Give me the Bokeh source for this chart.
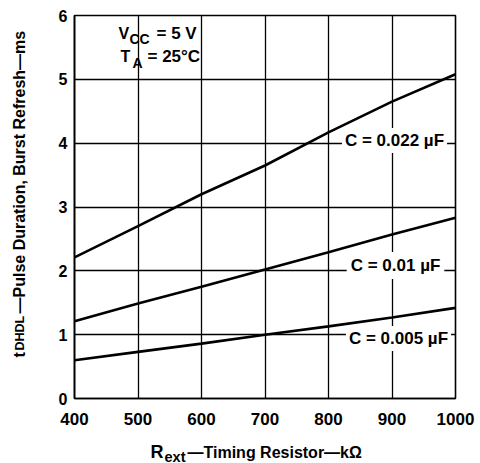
import math
from bokeh.plotting import figure
from bokeh.models import Label, FixedTicker, Range1d
from bokeh.layouts import row, column
from bokeh.embed import file_html
from bokeh.resources import INLINE

# ---- data ----
r_ext = [400, 500, 600, 700, 800, 900, 1000]
c_022 = [2.21, 2.70, 3.20, 3.65, 4.17, 4.65, 5.08]
c_010 = [1.21, 1.49, 1.75, 2.02, 2.29, 2.57, 2.83]
c_005 = [0.60, 0.73, 0.86, 1.00, 1.13, 1.27, 1.42]
x_ticks = [400, 500, 600, 700, 800, 900, 1000]
y_ticks = [0, 1, 2, 3, 4, 5, 6]
curve_labels = ["C = 0.022 \u00b5F", "C = 0.01 \u00b5F", "C = 0.005 \u00b5F"]

FONT = "Liberation Sans"
PAGE_W, PAGE_H = 480, 463
YT_W = 40            # width of the y-title strip
MAIN_H = 436         # height of main figure
FL, FR, FT, FB = 74, 455, 15, 398   # frame edges in page px

# ---------- main figure ----------
p = figure(width=PAGE_W - YT_W, height=MAIN_H, output_backend="svg",
           toolbar_location=None,
           x_range=Range1d(400, 1000), y_range=Range1d(0, 6),
           min_border_left=FL - YT_W, min_border_right=PAGE_W - FR,
           min_border_top=FT, min_border_bottom=MAIN_H - FB)
p.background_fill_color = "white"
p.border_fill_color = "white"
p.outline_line_color = "black"
p.outline_line_width = 1.6

for ax in (p.xaxis[0], p.yaxis[0]):
    ax.axis_line_color = "black"
    ax.axis_line_width = 1.6
    ax.major_tick_in = 0
    ax.major_tick_out = 0
    ax.minor_tick_in = 0
    ax.minor_tick_out = 0
    ax.major_label_text_font = FONT
    ax.major_label_text_font_style = "bold"
    ax.major_label_text_color = "black"
p.xaxis[0].ticker = FixedTicker(ticks=x_ticks)
p.yaxis[0].ticker = FixedTicker(ticks=y_ticks)
p.xaxis[0].major_label_text_font_size = "17px"
p.yaxis[0].major_label_text_font_size = "16px"
p.xaxis[0].major_label_standoff = 14
p.yaxis[0].major_label_standoff = 7

for g in (p.xgrid[0], p.ygrid[0]):
    g.grid_line_color = "black"
    g.grid_line_width = 1.3
    g.grid_line_alpha = 1.0

for ys in (c_022, c_010, c_005):
    p.line(r_ext, ys, line_color="black", line_width=2.6)


def dx(px):
    return 400 + (px - FL) / (FR - FL) * 600


def dy(py):
    return 6 * (FB - py) / (FB - FT)


def lab(fig, text, x, y, size, angle=0.0, align="left", **kw):
    fig.add_layout(Label(x=x, y=y, text=text, text_font=FONT,
                         text_font_style="bold", text_font_size=size,
                         text_color="black", angle=angle, text_align=align,
                         text_baseline="middle", **kw))


# curve labels with white background
lab(p, curve_labels[0], dx(394), dy(140), "17px", align="center",
    background_fill_color="white", padding=3)
lab(p, curve_labels[1], dx(395), dy(265), "17px", align="center",
    background_fill_color="white", padding=4)
lab(p, curve_labels[2], dx(398), dy(338), "17px", align="center",
    background_fill_color="white", padding=3)

# conditions
lab(p, "V", dx(118), dy(33), "16px")
lab(p, "CC", dx(129), dy(38), "14px")
lab(p, "= 5 V", dx(156), dy(33), "17px")
lab(p, "T", dx(120), dy(56), "16px")
lab(p, "A", dx(132), dy(62), "14px")
lab(p, "= 25\u00b0C", dx(147), dy(56), "17px")


def strip(w, h, xr, yr, **kw):
    f = figure(width=w, height=h, output_backend="svg", toolbar_location=None,
               x_range=Range1d(*xr), y_range=Range1d(*yr),
               x_axis_type=None, y_axis_type=None, **kw)
    f.outline_line_color = None
    f.background_fill_color = "white"
    f.border_fill_color = "white"
    f.xgrid.visible = False
    f.ygrid.visible = False
    return f


# ---------- y title strip (page coords) ----------
yt = strip(YT_W, PAGE_H, (0, YT_W), (PAGE_H, 0), min_border=0)
a = math.pi / 2
lab(yt, "t", 19, 357, "16px", angle=a)
lab(yt, "DHDL", 19.5, 350, "12.5px", angle=a)
lab(yt, "\u2014Pulse Duration, Burst Refresh\u2014ms", 19, 313, "16px", angle=a)

# ---------- x title strip (frame aligned with main frame; page coords) ----------
xt = strip(PAGE_W - YT_W, PAGE_H - MAIN_H, (FL, FR), (PAGE_H, MAIN_H),
           min_border=0, min_border_left=FL - YT_W, min_border_right=PAGE_W - FR)
lab(xt, "R", 150, 451.5, "18px")
lab(xt, "ext", 164, 456, "14.5px")
lab(xt, "\u2014Timing Resistor\u2014k\u03a9", 187, 451.5, "16px")

layout = row(yt, column(p, xt, spacing=0), spacing=0)

open("out.html", "w").write(file_html(layout, INLINE))
